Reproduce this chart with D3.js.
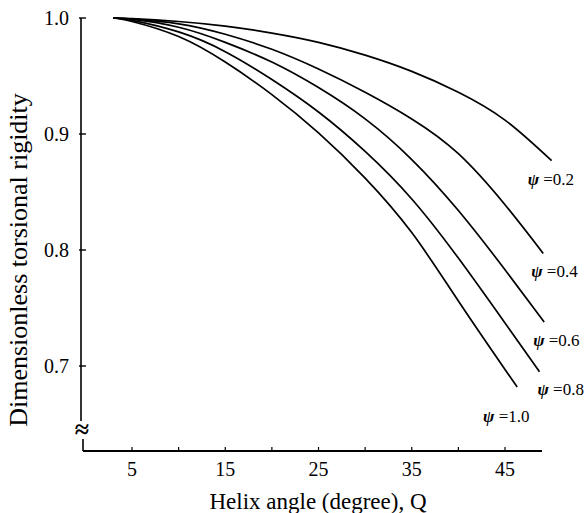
<!DOCTYPE html>
<html>
<head>
<meta charset="utf-8">
<script src="https://cdn.jsdelivr.net/npm/d3@7"></script>
<style>
  html, body { margin: 0; padding: 0; background: #fff; }
  svg { display: block; }
  text { font-family: "Liberation Serif", "DejaVu Serif", serif; fill: #000; }
</style>
</head>
<body>
<div id="chart"></div>
<script>
// ---- data ----
const phiLabels = ["0.2", "0.4", "0.6", "0.8", "1.0"];
const angles02 = [3, 5, 10, 15, 20, 25, 30, 35, 40, 45, 50];
const values02 = [1, 0.9995, 0.997, 0.993, 0.987, 0.979, 0.968, 0.954, 0.936, 0.912, 0.877];
const angles04 = [3, 5, 10, 15, 20, 25, 30, 35, 40, 45, 49.1];
const values04 = [1, 0.999, 0.995, 0.986, 0.973, 0.956, 0.936, 0.913, 0.883, 0.839, 0.797];
const angles06 = [3, 5, 10, 15, 20, 25, 30, 35, 40, 45, 49.2];
const values06 = [1, 0.999, 0.992, 0.979, 0.962, 0.940, 0.913, 0.878, 0.834, 0.783, 0.738];
const angles08 = [3, 5, 10, 15, 20, 25, 30, 35, 40, 45, 48.7];
const values08 = [1, 0.998, 0.988, 0.971, 0.947, 0.919, 0.885, 0.844, 0.793, 0.737, 0.695];
const angles10 = [3, 5, 10, 15, 20, 25, 30, 35, 40, 45, 46.3];
const values10 = [1, 0.997, 0.984, 0.962, 0.934, 0.901, 0.862, 0.815, 0.756, 0.697, 0.682];
const xTickLabels = [5, 15, 25, 35, 45];
const xMinorTicks = [10, 20, 30, 40];
const yTickLabels = ["0.7", "0.8", "0.9", "1.0"];

const seriesAngles = [angles02, angles04, angles06, angles08, angles10];
const seriesValues = [values02, values04, values06, values08, values10];

// ---- layout ----
const W = 588, H = 513;
const svg = d3.select("#chart").append("svg").attr("width", W).attr("height", H);

const x = d3.scaleLinear().domain([5, 45]).range([132, 505]);
const y = d3.scaleLinear().domain([0.7, 1.0]).range([366, 18]);

const axisX0 = 83, axisX1 = 542, axisY = 451;
const yAxisX = 81;

// y axis line (broken)
svg.append("line").attr("x1", yAxisX).attr("x2", yAxisX)
  .attr("y1", y(1.0)).attr("y2", 421)
  .attr("stroke", "#000").attr("stroke-width", 1.6);
svg.append("line").attr("x1", axisX0).attr("x2", axisX0)
  .attr("y1", 439).attr("y2", axisY)
  .attr("stroke", "#000").attr("stroke-width", 1.6);
// break symbol
svg.append("text").attr("x", yAxisX + 1).attr("y", 438)
  .attr("text-anchor", "middle").attr("font-size", 26).attr("font-weight", "bold").text("≈");

// x axis line
svg.append("line").attr("x1", axisX0).attr("x2", axisX1)
  .attr("y1", axisY).attr("y2", axisY)
  .attr("stroke", "#000").attr("stroke-width", 1.8);

// x ticks (inward)
svg.selectAll(".xt").data(xTickLabels.concat(xMinorTicks)).enter().append("line")
  .attr("x1", d => x(d)).attr("x2", d => x(d))
  .attr("y1", axisY).attr("y2", axisY - 4)
  .attr("stroke", "#000").attr("stroke-width", 1.2);
svg.selectAll(".xl").data(xTickLabels).enter().append("text")
  .attr("x", d => x(d)).attr("y", 476)
  .attr("text-anchor", "middle").attr("font-size", 20).text(d => d);

// y ticks
svg.selectAll(".yt").data(yTickLabels).enter().append("line")
  .attr("x1", yAxisX - 2).attr("x2", yAxisX + 5)
  .attr("y1", d => y(+d)).attr("y2", d => y(+d))
  .attr("stroke", "#000").attr("stroke-width", 1.4);
svg.selectAll(".yl").data(yTickLabels).enter().append("text")
  .attr("x", 69).attr("y", d => y(+d) + 7)
  .attr("text-anchor", "end").attr("font-size", 20).text(d => d);

// axis titles
svg.append("text").attr("x", 318).attr("y", 509)
  .attr("text-anchor", "middle").attr("font-size", 23)
  .text("Helix angle (degree), Q");
svg.append("text")
  .attr("transform", "translate(27,260) rotate(-90)")
  .attr("text-anchor", "middle").attr("font-size", 26)
  .text("Dimensionless torsional rigidity");

// curves
const line = d3.line().x(d => x(d[0])).y(d => y(d[1])).curve(d3.curveNatural);
seriesValues.forEach((vals, i) => {
  const pts = seriesAngles[i].map((a, j) => [a, vals[j]]);
  svg.append("path").datum(pts)
    .attr("d", line).attr("fill", "none")
    .attr("stroke", "#000").attr("stroke-width", 1.7);
});

// series labels (offsets from the curve end, in px)
const labelOffsets = [[-24, 24], [-12, 24], [-11, 24], [-2, 23], [-34, 35]];
phiLabels.forEach((lab, i) => {
  const a = seriesAngles[i], v = seriesValues[i];
  const ex = x(a[a.length - 1]), ey = y(v[v.length - 1]);
  const t = svg.append("text")
    .attr("x", ex + labelOffsets[i][0]).attr("y", ey + labelOffsets[i][1])
    .attr("font-size", 17);
  t.append("tspan").attr("font-style", "italic").attr("font-weight", "bold").text("ψ");
  t.append("tspan").text(" =" + lab);
});
</script>
</body>
</html>
